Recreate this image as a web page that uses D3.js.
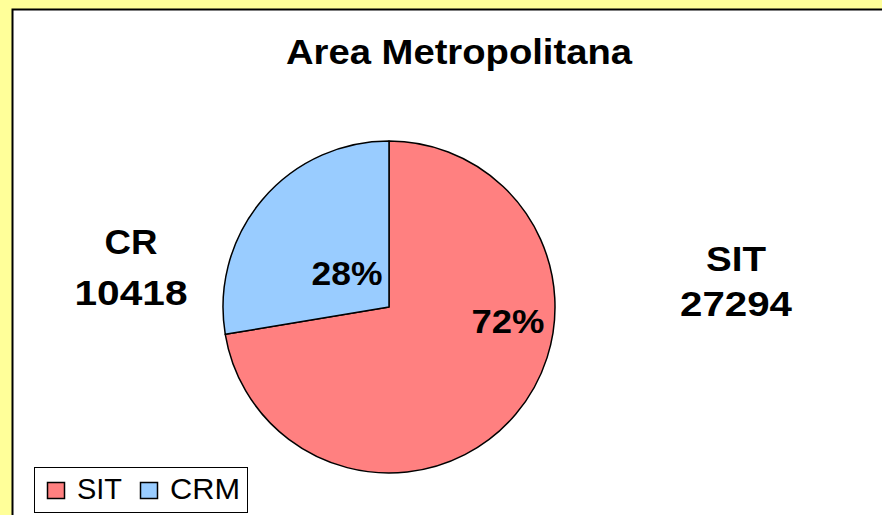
<!DOCTYPE html>
<html><head><meta charset="utf-8">
<script src="https://cdn.jsdelivr.net/npm/d3@7"></script>
<style>html,body{margin:0;padding:0;background:#FFFF99;overflow:hidden}</style>
</head><body>
<svg id="c" width="882" height="515"></svg>
<script>
const title = "Area Metropolitana";
const categories = ["SIT", "CRM"];
const values = [27294, 10418];
const sideLabels = [["SIT", "27294"], ["CR", "10418"]];
const colors = ["#FF8080", "#99CCFF"];

const svg = d3.select("#c");
svg.append("rect").attr("x",0).attr("y",0).attr("width",882).attr("height",515).attr("fill","#FFFF99");
// chart area
svg.append("rect").attr("x",14).attr("y",11).attr("width",900).attr("height",600).attr("fill","#808080");
svg.append("rect").attr("x",12.5).attr("y",9.5).attr("width",900).attr("height",600)
  .attr("fill","#fff").attr("stroke","#000").attr("stroke-width",2);

const font = "Arial, 'Liberation Sans', sans-serif";
svg.append("text").attr("x",459).attr("y",64).attr("text-anchor","middle")
  .attr("font-family",font).attr("font-weight","bold").attr("font-size",35)
  .attr("textLength",346).attr("lengthAdjust","spacingAndGlyphs").text(title);

const cx = 389, cy = 307, R = 166;
const total = d3.sum(values);
const pie = d3.pie().sort(null).value(d => d)(values);
const arc = d3.arc().innerRadius(0).outerRadius(R);
const g = svg.append("g").attr("transform",`translate(${cx},${cy})`);
g.selectAll("path").data(pie).join("path")
  .attr("d",arc).attr("fill",(d,i)=>colors[i]).attr("stroke","#000").attr("stroke-width",1.5).attr("stroke-linejoin","round");

// percentage labels
const pctPos = [[508, 333], [347, 285]];
const pctW = [73, 71];
pie.forEach((d,i)=>{
  svg.append("text").attr("x",pctPos[i][0]).attr("y",pctPos[i][1]).attr("text-anchor","middle")
    .attr("font-family",font).attr("font-weight","bold").attr("font-size",34)
    .attr("textLength",pctW[i]).attr("lengthAdjust","spacingAndGlyphs")
    .text(Math.round(d.value/total*100)+"%");
});

// side labels
const sidePos = [[736, 271, 316], [131, 254, 305]];
const sideW = [[60,112],[53,113]];
sideLabels.forEach((lab,i)=>{
  [0,1].forEach(k=>{
    svg.append("text").attr("x",sidePos[i][0]).attr("y",sidePos[i][1+k]).attr("text-anchor","middle")
      .attr("font-family",font).attr("font-weight","bold").attr("font-size",35)
      .attr("textLength",sideW[i][k]).attr("lengthAdjust","spacingAndGlyphs").text(lab[k]);
  });
});

// legend
svg.append("rect").attr("x",34.5).attr("y",467.5).attr("width",213).attr("height",45)
  .attr("fill","#fff").attr("stroke","#000").attr("stroke-width",1);
const legX = [47, 140];
const legTX = [77, 170];
const legTW = [45, 70];
categories.forEach((c,i)=>{
  svg.append("rect").attr("x",legX[i]+0.5).attr("y",482.5).attr("width",17).attr("height",16)
    .attr("fill",colors[i]).attr("stroke","#000").attr("stroke-width",1.5);
  svg.append("text").attr("x",legTX[i]).attr("y",499).attr("font-family",font)
    .attr("font-size",30).attr("textLength",legTW[i]).attr("lengthAdjust","spacingAndGlyphs").text(c);
});
</script>
</body></html>
